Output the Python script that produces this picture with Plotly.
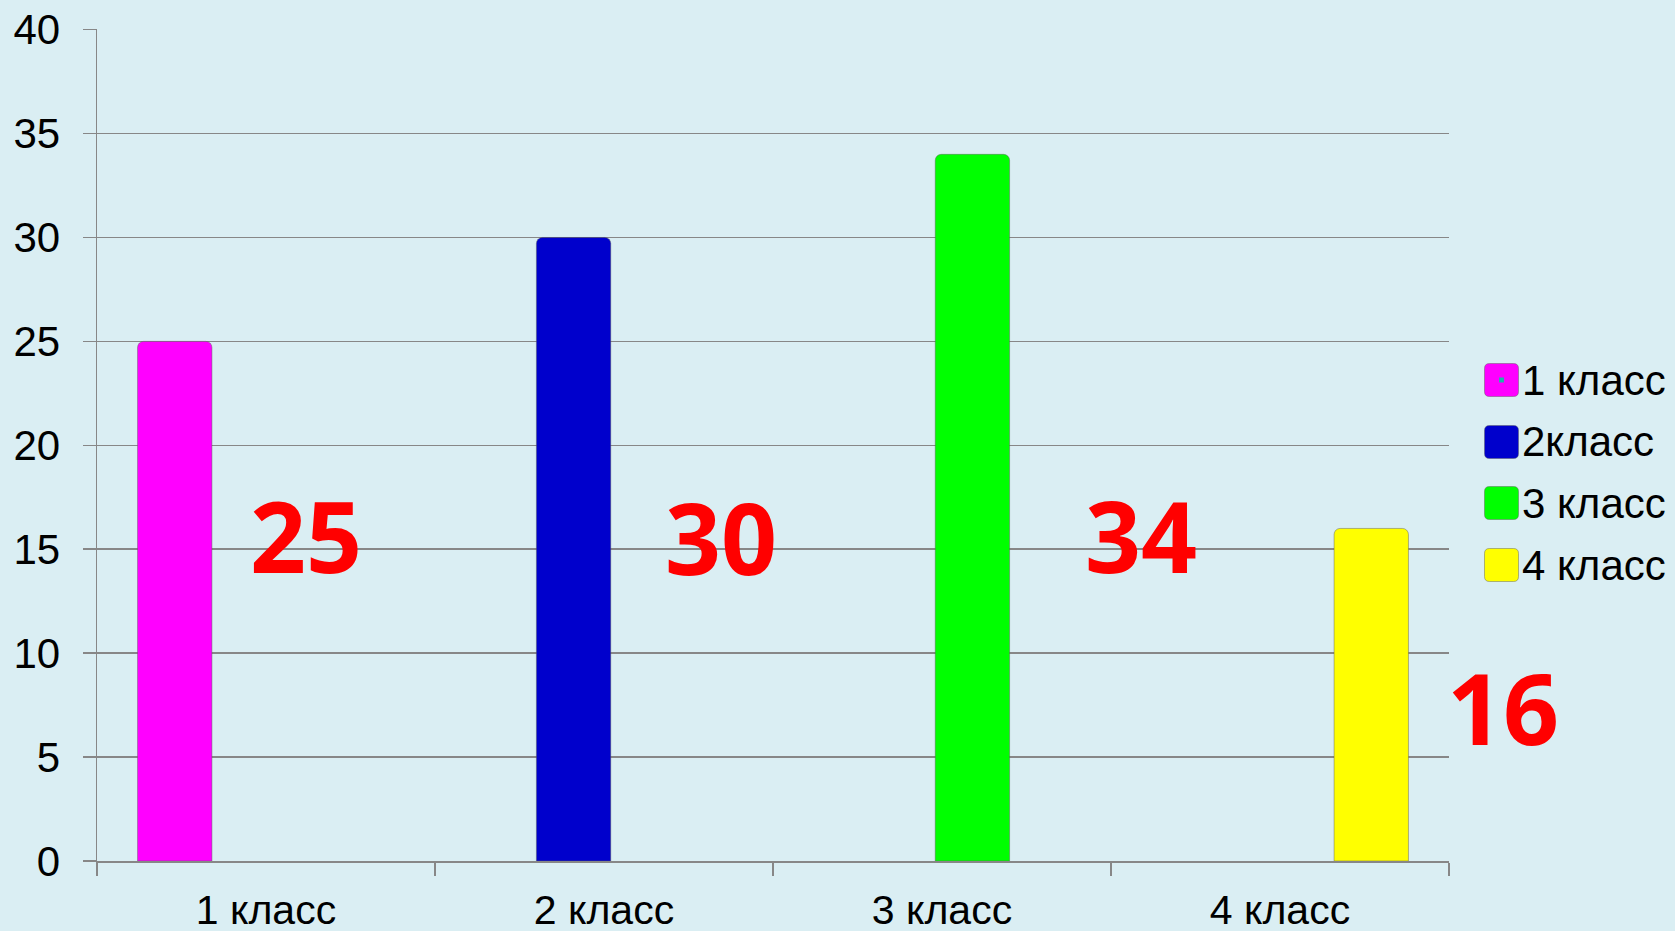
import plotly.graph_objects as go

# ---- data ----
categories = ["1 класс", "2 класс", "3 класс", "4 класс"]
series_names = ["1 класс", "2класс", "3 класс", "4 класс"]
values = [25, 30, 34, 16]
colors = ["#FF00FF", "#0000CC", "#00FF00", "#FFFF00"]
y_ticks = [0, 5, 10, 15, 20, 25, 30, 35, 40]

# ---- layout helpers (positions / styles) ----
bar_offsets = [-0.38, -0.20, -0.02, 0.16]
bar_width = 0.22
label_dx = [0.118, 0.347, 0.590, 0.659]
label_y = [15.7, 15.6, 15.7, 7.4]

W, H = 1675, 931
ML, MR, MT, MB = 97, 226, 29, 70
PW = W - ML - MR
PH = H - MT - MB
grid_col = "#878787"
bg = "#DAEEF3"
n_cat = len(categories)

fig = go.Figure()
for i, (name, val, col) in enumerate(zip(series_names, values, colors)):
    fig.add_trace(go.Bar(
        x=[categories[i]], y=[val], name=name,
        offset=bar_offsets[i], width=bar_width,
        marker=dict(color=col, cornerradius=6,
                    line=dict(color="rgba(90,90,90,0.45)", width=1)),
        showlegend=False, hoverinfo="skip",
    ))

annotations = []
for i, val in enumerate(values):
    annotations.append(dict(
        x=(i + label_dx[i] + 0.5) / n_cat, y=label_y[i], xref="paper", yref="y",
        text=str(val), showarrow=False,
        font=dict(family="Open Sans", size=98, color="#FF0000", weight="bold"),
        xanchor="center", yanchor="middle",
    ))

# manual legend
shapes = []
legend_py = [380, 442, 503, 565]
sym_cx = 1501.5
text_x = 1520
hw, hh, r = 17, 16.5, 5
path = (f"M {-hw+r},{-hh} L {hw-r},{-hh} Q {hw},{-hh} {hw},{-hh+r} "
        f"L {hw},{hh-r} Q {hw},{hh} {hw-r},{hh} L {-hw+r},{hh} "
        f"Q {-hw},{hh} {-hw},{hh-r} L {-hw},{-hh+r} Q {-hw},{-hh} {-hw+r},{-hh} Z")
for i, (name, col) in enumerate(zip(series_names, colors)):
    px_y = legend_py[i]
    yp = (MT + PH - px_y) / PH
    xp = (sym_cx - ML) / PW
    shapes.append(dict(
        type="path", xref="paper", yref="paper",
        xsizemode="pixel", ysizemode="pixel", xanchor=xp, yanchor=yp,
        path=path, fillcolor=col,
        line=dict(color="rgba(90,90,90,0.45)", width=1),
    ))
    annotations.append(dict(
        x=(text_x - ML) / PW, y=yp, xref="paper", yref="paper",
        text=name, showarrow=False, xanchor="left", yanchor="middle",
        font=dict(family="Liberation Sans", size=42, color="#000000"),
    ))
# small artifact dot in first legend symbol
shapes.append(dict(
    type="rect", xref="paper", yref="paper",
    xsizemode="pixel", ysizemode="pixel",
    xanchor=(sym_cx - ML) / PW, yanchor=(MT + PH - legend_py[0]) / PH,
    x0=-2.5, x1=2.5, y0=-2.5, y1=2.5,
    fillcolor="#20B2AA", line=dict(width=0),
))

fig.update_layout(
    width=W, height=H,
    margin=dict(l=ML, r=MR, t=MT, b=MB, pad=0, autoexpand=False),
    paper_bgcolor=bg, plot_bgcolor=bg,
    barmode="overlay",
    font=dict(family="Liberation Sans", color="#000000"),
    annotations=annotations,
    shapes=shapes,
    xaxis=dict(
        categoryorder="array", categoryarray=categories,
        range=[-0.5, 3.5], automargin=False,
        showline=True, linecolor=grid_col, linewidth=1.5,
        ticks="outside", tickson="boundaries", ticklen=13,
        tickcolor=grid_col, tickwidth=1.5,
        showgrid=False, tickfont=dict(size=41), ticklabelstandoff=12,
        fixedrange=True,
    ),
    yaxis=dict(
        range=[0, 40.03], tickvals=y_ticks, automargin=False,
        showline=True, linecolor=grid_col, linewidth=1.5,
        ticks="outside", ticklen=13, tickcolor=grid_col, tickwidth=1.5,
        showgrid=True, gridcolor=grid_col, gridwidth=1.5,
        zeroline=False, tickfont=dict(size=42), ticklabelstandoff=14,
        fixedrange=True,
    ),
)

fig.write_html(
    "out.html",
    config={"displayModeBar": False, "staticPlot": True},
    post_script="document.body.style.margin='0';document.body.style.overflow='hidden';",
)
